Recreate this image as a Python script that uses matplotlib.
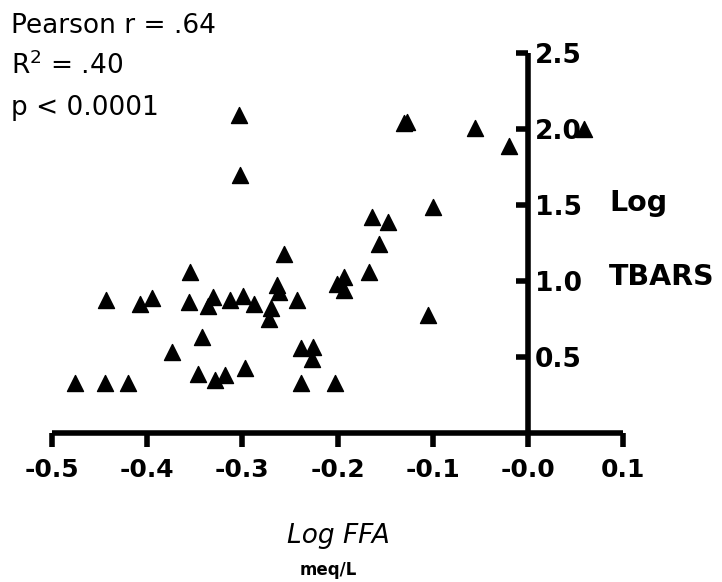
import matplotlib
matplotlib.use("Agg")
import matplotlib.pyplot as plt
from matplotlib.markers import MarkerStyle

# Log FFA (meq/L) vs Log TBARS for each subject
log_ffa = [
    -0.476, -0.444, -0.420, -0.443, -0.408, -0.395, -0.355, -0.356,
    -0.331, -0.336, -0.313, -0.299, -0.288, -0.264, -0.261, -0.270,
    -0.272, -0.243, -0.256, -0.342, -0.374, -0.347, -0.329, -0.318,
    -0.297, -0.238, -0.226, -0.227, -0.238, -0.203, -0.201, -0.193,
    -0.193, -0.167, -0.156, -0.164, -0.147, -0.100, -0.105, -0.303,
    -0.302, -0.130, -0.127, -0.055, -0.020, 0.059,
]
log_tbars = [
    0.331, 0.331, 0.331, 0.875, 0.849, 0.888, 1.059, 0.864,
    0.897, 0.836, 0.875, 0.901, 0.849, 0.974, 0.930, 0.822,
    0.748, 0.875, 1.178, 0.630, 0.531, 0.388, 0.349, 0.382,
    0.430, 0.561, 0.568, 0.485, 0.331, 0.331, 0.980, 1.028,
    0.941, 1.057, 1.243, 1.423, 1.390, 1.489, 0.776, 2.092,
    1.697, 2.039, 2.043, 2.005, 1.890, 1.997,
]

x_ticks = [-0.5, -0.4, -0.3, -0.2, -0.1, 0.0, 0.1]
x_tick_labels = ["-0.5", "-0.4", "-0.3", "-0.2", "-0.1", "-0.0", "0.1"]
y_ticks = [0.5, 1.0, 1.5, 2.0, 2.5]
y_tick_labels = ["0.5", "1.0", "1.5", "2.0", "2.5"]
stats_lines = ["Pearson r = .64", "R$^2$ = .40", "p < 0.0001"]

W, H = 722, 582
fig = plt.figure(figsize=(W / 100, H / 100), dpi=100)
ax = fig.add_axes([52 / W, 1 - 433 / H, 571 / W, 380 / H])

tri = MarkerStyle("^", joinstyle="round")
ax.plot(log_ffa, log_tbars, linestyle="none", marker=tri, markersize=12,
        markerfacecolor="black", markeredgecolor="black",
        markeredgewidth=1.0, clip_on=False, zorder=3)

ax.set_xlim(-0.5, 0.1)
ax.set_ylim(0, 2.5)

# axes cross at the origin; y axis carries its labels on the right
ax.spines["top"].set_visible(False)
ax.spines["left"].set_visible(False)
ax.spines["right"].set_position(("data", 0))
ax.spines["bottom"].set_position(("data", 0))
for s in ("right", "bottom"):
    ax.spines[s].set_linewidth(4)
    ax.spines[s].set_capstyle("butt")

ax.yaxis.tick_right()
ax.set_xticks(x_ticks, x_tick_labels, fontweight="bold")
ax.set_yticks(y_ticks, y_tick_labels, fontweight="bold")
ax.tick_params(axis="x", direction="out", length=10, width=4, pad=8,
               labelsize=18)
ax.tick_params(axis="y", direction="in", length=9, width=4, pad=5,
               labelsize=19)

# correlation statistics
for i, line in enumerate(stats_lines):
    fig.text(11 / W, 1 - (33 + 41 * i) / H, line, fontsize=19,
             ha="left", va="baseline")

# y axis title, placed beside the tick labels
fig.text(609 / W, 1 - 211 / H, "Log", fontsize=20.5, fontweight="bold",
         ha="left", va="baseline")
fig.text(609 / W, 1 - 285 / H, "TBARS", fontsize=20.5, fontweight="bold",
         ha="left", va="baseline")

# x axis title
fig.text(338 / W, 1 - 543 / H, "Log FFA", fontsize=19, style="italic",
         ha="center", va="baseline")
fig.text(328 / W, 1 - 575 / H, "meq/L", fontsize=12, fontweight="bold",
         ha="center", va="baseline")

fig.savefig("out.png", dpi=100)
